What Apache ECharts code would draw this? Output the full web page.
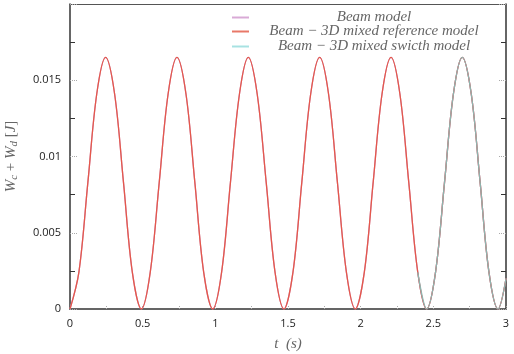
<!DOCTYPE html>
<html><head><meta charset="utf-8">
<script src="https://cdn.jsdelivr.net/npm/echarts@6/dist/echarts.min.js"></script>
<style>html,body{margin:0;padding:0;background:#fff}#c{width:514px;height:354px}</style>
</head><body><div id="c"></div>
<script>
const seriesNames = ['Beam model', 'Beam \u2212 3D mixed reference model', 'Beam \u2212 3D mixed swicth model'];
const time = [0, 0.061, 0.123, 0.184, 0.245, 0.307, 0.368, 0.429,
  0.491, 0.552, 0.614, 0.675, 0.736, 0.798, 0.859, 0.920,
  0.982, 1.043, 1.104, 1.166, 1.227, 1.288, 1.350, 1.411,
  1.472, 1.534, 1.595, 1.656, 1.718, 1.779, 1.840, 1.902,
  1.963, 2.025, 2.086, 2.147, 2.209, 2.270, 2.331, 2.393,
  2.454, 2.515, 2.577, 2.638, 2.699, 2.761, 2.822, 2.883,
  2.945, 3.0];
const beamEnergy = [0, .0024, .0083, .0141, .0165, .0141, .0083, .0024,
  0, .0024, .0083, .0141, .0165, .0141, .0083, .0024,
  0, .0024, .0083, .0141, .0165, .0141, .0083, .0024,
  0, .0024, .0083, .0141, .0165, .0141, .0083, .0024,
  0, .0024, .0083, .0141, .0165, .0141, .0083, .0024,
  0, .0024, .0083, .0141, .0165, .0141, .0083, .0024,
  0, .0020];
const referenceEnergy = [0, .0024, .0083, .0141, .0165, .0141, .0083, .0024,
  0, .0024, .0083, .0141, .0165, .0141, .0083, .0024,
  0, .0024, .0083, .0141, .0165, .0141, .0083, .0024,
  0, .0024, .0083, .0141, .0165, .0141, .0083, .0024,
  0, .0024, .0083, .0141, .0165, .0141, .0083, .0024,
  0, .0024, .0083, .0141, .0165, .0141, .0083, .0024,
  0, .0020];
const switchEnergy = [null, null, null, null, null, null, null, null,
  null, null, null, null, null, null, null, null,
  null, null, null, null, null, null, null, null,
  null, null, null, null, null, null, null, null,
  null, null, null, null, null, null, null, .0024,
  0, .0024, .0083, .0141, .0165, .0141, .0083, .0024,
  0, .0020];

const pairs = (vals) => time.map((t, i) => [t, vals[i]]);

const legendFontSize = 15;
const ctx = document.createElement('canvas').getContext('2d');
ctx.font = 'italic ' + legendFontSize + 'px "Liberation Serif"';
const legendCenterX = 374;
const iconLeft = 232, iconW = 17;
function legendFor(name, color, top) {
  const w = ctx.measureText(name).width;
  const pad = Math.max(0, legendCenterX - w / 2 - (iconLeft + iconW + 5));
  return {
    left: iconLeft, top: top, padding: 0, icon: 'rect', itemWidth: iconW, itemHeight: 2,
    selectedMode: false,
    data: [{ name: name, itemStyle: { color: color } }],
    textStyle: { fontFamily: 'Liberation Serif', fontStyle: 'italic', fontSize: legendFontSize, color: '#666', padding: [0, 0, 0, pad], lineHeight: 14 }
  };
}

const axisLabelStyle = { fontFamily: 'Open Sans', fontSize: 11, color: '#222' };
const chart = echarts.init(document.getElementById('c'), null, { renderer: 'canvas' });
chart.setOption({
  animation: false,
  backgroundColor: '#fff',
  grid: { left: 70, right: 8, top: 4, bottom: 45, show: false, containLabel: false, outerBoundsMode: 'none' },
  legend: [
    legendFor(seriesNames[0], '#d9aad6', 10),
    legendFor(seriesNames[1], '#e87868', 24),
    legendFor(seriesNames[2], '#a8e2e2', 39)
  ],
  xAxis: [{
    type: 'value', min: 0, max: 3, interval: 0.5,
    name: 't  (s)', nameLocation: 'middle', nameGap: 28,
    nameTextStyle: { fontFamily: 'Liberation Serif', fontStyle: 'italic', fontSize: 15, color: '#666' },
    axisLine: { show: true, onZero: false, lineStyle: { color: '#333', width: 1.5 } },
    axisTick: { show: true, inside: true, length: 4, lineStyle: { color: '#aaa', type: 'dotted' } },
    minorTick: { show: true, splitNumber: 2, length: 3, lineStyle: { color: '#aaa', type: 'dotted' } },
    axisLabel: Object.assign({ margin: 9, formatter: v => String(v) }, axisLabelStyle),
    splitLine: { show: false }
  }, {
    type: 'value', min: 0, max: 3, interval: 0.5, position: 'top',
    axisLine: { show: true, onZero: false, lineStyle: { color: '#555', width: 1.2 } },
    axisTick: { show: false }, axisLabel: { show: false }, splitLine: { show: false }
  }],
  yAxis: [{
    type: 'value', min: 0, max: 0.02, interval: 0.005,
    name: '{i|W}{s|c}{n| + }{i|W}{s|d}{n| [}{i|J}{n|]}',
    nameLocation: 'middle', nameGap: 50, nameRotate: 90,
    nameTextStyle: {
      color: '#666',
      rich: {
        i: { fontFamily: 'Liberation Serif', fontStyle: 'italic', fontSize: 15, color: '#666' },
        n: { fontFamily: 'Liberation Serif', fontSize: 15, color: '#666' },
        s: { fontFamily: 'Liberation Serif', fontStyle: 'italic', fontSize: 11, color: '#666', padding: [6, 0, 0, 0] }
      }
    },
    axisLine: { show: true, onZero: false, lineStyle: { color: '#333', width: 1.5 } },
    axisTick: { show: true, inside: true, length: 7, lineStyle: { color: '#aaa', type: 'dotted' } },
    minorTick: { show: true, splitNumber: 2, length: 5, lineStyle: { color: '#333', width: 1 } },
    axisLabel: Object.assign({ margin: 9, showMaxLabel: false, formatter: v => String(v) }, axisLabelStyle),
    splitLine: { show: false }
  }, {
    type: 'value', min: 0, max: 0.02, interval: 0.005, position: 'right',
    axisLine: { show: true, onZero: false, lineStyle: { color: '#333', width: 1.5 } },
    axisTick: { show: true, inside: true, length: 7, lineStyle: { color: '#aaa', type: 'dotted' } },
    minorTick: { show: true, splitNumber: 2, length: 5, lineStyle: { color: '#333', width: 1 } },
    axisLabel: { show: false }, splitLine: { show: false }
  }],
  series: [
    { name: seriesNames[0], type: 'line', data: pairs(beamEnergy), smooth: 0.35, showSymbol: false,
      lineStyle: { color: '#c99ad0', width: 1.3 }, itemStyle: { color: '#c99ad0' } },
    { name: seriesNames[1], type: 'line', data: pairs(referenceEnergy), smooth: 0.35, showSymbol: false,
      lineStyle: { color: '#e5584a', width: 1.3 }, itemStyle: { color: '#e5584a' } },
    { name: seriesNames[2], type: 'line', data: pairs(switchEnergy), smooth: 0.35, showSymbol: false,
      lineStyle: { color: '#8fb3ad', width: 1.3 }, itemStyle: { color: '#8fb3ad' } }
  ]
});
</script>
</body></html>
